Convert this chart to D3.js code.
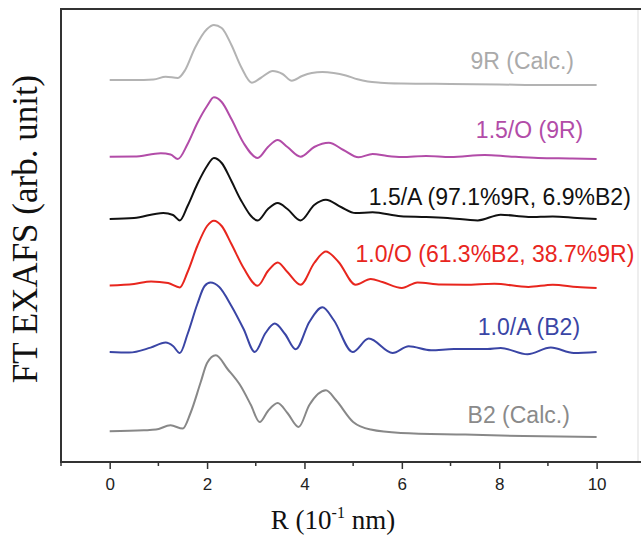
<!DOCTYPE html>
<html>
<head>
<meta charset="utf-8">
<script src="https://cdn.jsdelivr.net/npm/d3@7"></script>
<style>
  html, body { margin: 0; padding: 0; background: #fff; }
  svg { display: block; }
</style>
</head>
<body>
<div id="chart"></div>
<script>
// FT EXAFS curves, [R (10^-1 nm), intensity above own baseline]
const calc9R = [
  [0, 0.5], [0.5, 0.5], [0.9, 0.55], [1.15, 0.83], [1.4, 0.7], [1.55, 1.5],
  [1.75, 3.7], [2.0, 5.6], [2.14, 6.0], [2.3, 5.7], [2.5, 4.0], [2.7, 1.8],
  [2.92, 0.23], [3.1, 0.7], [3.35, 1.4], [3.55, 1.1], [3.74, 0.43], [3.95, 0.9],
  [4.15, 1.2], [4.37, 1.3], [4.6, 1.2], [4.85, 0.95], [5.09, 0.57], [5.3, 0.35],
  [5.56, 0.23], [6.0, 0.15], [7, 0.1], [8, 0.05], [9, 0], [10, 0]
];
const o15 = [
  [0, 0.23], [0.5, 0.25], [1.05, 0.57], [1.25, 0.45], [1.4, 0], [1.6, 1.5],
  [1.8, 3.6], [2.0, 5.3], [2.14, 6.17], [2.3, 5.7], [2.5, 4.0], [2.75, 1.6],
  [3.04, 0.1], [3.25, 1.2], [3.45, 1.9], [3.65, 1.2], [3.92, 0.23], [4.2, 1.2],
  [4.5, 1.63], [4.8, 0.9], [5.11, 0.17], [5.4, 0.5], [5.7, 0.3], [6.0, 0.2],
  [6.5, 0.3], [7.0, 0.2], [7.7, 0.4], [8.2, 0.25], [8.8, 0.1], [9.5, 0.05], [10, 0]
];
const a15 = [
  [0, 0], [0.5, 0.1], [1.1, 0.6], [1.3, 0.4], [1.44, -0.14], [1.6, 1.3],
  [1.8, 3.5], [2.0, 5.3], [2.14, 6.1], [2.3, 5.6], [2.5, 3.8], [2.69, 1.93],
  [3.04, -0.14], [3.25, 1.0], [3.45, 1.6], [3.65, 1.0], [3.92, -0.14], [4.2, 1.4],
  [4.44, 1.93], [4.75, 1.2], [5.05, 0.6], [5.4, 0.67], [5.98, 0.27], [6.5, 0.2],
  [6.94, 0.1], [7.56, -0.14], [8.03, 0.43], [8.6, 0.2], [9.1, 0.26], [9.6, 0.1], [10, 0]
];
const o10 = [
  [0, 0.26], [0.5, 0.4], [0.85, 0.66], [1.2, 0.5], [1.44, 0.06], [1.6, 1.6],
  [1.8, 4.2], [2.0, 6.2], [2.14, 6.73], [2.3, 6.2], [2.5, 4.4], [2.75, 2.0],
  [3.04, 0.23], [3.25, 1.7], [3.45, 2.56], [3.65, 1.6], [3.92, 0.33], [4.2, 2.5],
  [4.44, 3.66], [4.7, 2.6], [5.05, 0.33], [5.36, 0.9], [5.6, 0.6], [6.0, 0],
  [6.32, 0.56], [6.8, 0.35], [7.3, 0.33], [7.9, 0.43], [8.6, 0.1], [9.1, 0.33],
  [9.6, 0.1], [10, 0]
];
const a10 = [
  [0, 0], [0.4, -0.06], [0.84, 0.44], [1.15, 0.94], [1.3, 0.6], [1.44, -0.1],
  [1.6, 1.8], [1.8, 4.8], [1.95, 6.6], [2.07, 6.94], [2.25, 6.5], [2.5, 4.6],
  [2.75, 2.3], [2.98, 0], [3.2, 1.9], [3.39, 2.84], [3.6, 1.8], [3.82, 0.27],
  [4.1, 3.0], [4.37, 4.47], [4.6, 3.2], [4.99, 0], [5.32, 1.34], [5.81, -0.1],
  [6.14, 0.57], [6.6, 0.17], [7.07, 0.3], [7.76, 0.3], [8.03, 0.4], [8.58, -0.23],
  [9.06, 0.44], [9.53, -0.1], [10, 0]
];
const calcB2 = [
  [0, 0.57], [0.7, 0.67], [0.95, 0.74], [1.25, 1.17], [1.5, 0.84], [1.66, 2.4],
  [1.87, 5.5], [2.0, 7.4], [2.18, 8.17], [2.42, 6.8], [2.69, 5.1], [2.9, 3.2],
  [3.08, 1.5], [3.25, 2.6], [3.45, 3.4], [3.65, 2.4], [3.88, 1.0], [4.1, 3.2],
  [4.44, 4.67], [4.65, 3.67], [5.0, 1.5], [5.36, 0.74], [5.98, 0.4], [7.3, 0.24],
  [8.5, 0.1], [10, 0]
];

const seriesNames = ["9R (Calc.)", "1.5/O (9R)", "1.5/A (97.1%9R, 6.9%B2)",
  "1.0/O (61.3%B2, 38.7%9R)", "1.0/A (B2)", "B2 (Calc.)"];
const seriesData = [calc9R, o15, a15, o10, a10, calcB2];
const offsets = [37.7, 30.3, 24.3, 17.4, 11.0, 2.5];
const colors = ["#b3b3b3", "#b24ca8", "#111111", "#e8261e", "#3a45a5", "#888888"];
const labelColors = ["#aaaaaa", "#b24ca8", "#111111", "#e8261e", "#3a45a5", "#8a8a8a"];
// label anchor (R, y) in data units
const labelR = [7.41, 7.52, 5.32, 5.05, 7.56, 7.35];
const labelY = [39.3, 32.4, 25.7, 20.0, 12.7, 3.9];

const majorTicks = [0, 2, 4, 6, 8, 10];
const minorTicks = [-1, 1, 3, 5, 7, 9];

const width = 641, height = 535;
const margin = { left: 61, top: 9, right: 3, bottom: 73 };

const svg = d3.select('#chart').append('svg')
  .attr('width', width)
  .attr('height', height);

const x = d3.scaleLinear().domain([-1, 10.85]).range([margin.left, width - margin.right]);
const y = d3.scaleLinear().domain([0, 45.3]).range([height - margin.bottom, margin.top]);

// frame
svg.append('line')
  .attr('x1', x.range()[1]).attr('x2', x.range()[1])
  .attr('y1', y.range()[1]).attr('y2', y.range()[0])
  .attr('stroke', '#ddd').attr('stroke-width', 1);
svg.append('line')
  .attr('x1', x.range()[0]).attr('x2', width)
  .attr('y1', y.range()[1]).attr('y2', y.range()[1])
  .attr('stroke', '#333').attr('stroke-width', 2);
svg.append('line')
  .attr('x1', x.range()[0]).attr('x2', x.range()[0])
  .attr('y1', y.range()[1] - 1).attr('y2', y.range()[0] + 1)
  .attr('stroke', '#333').attr('stroke-width', 2);

// bottom axis
const xAxis = svg.append('g')
  .attr('transform', `translate(0,${y.range()[0]})`)
  .call(d3.axisBottom(x).tickValues(majorTicks).tickSize(7).tickPadding(9).tickFormat(d3.format('d')));
xAxis.select('.domain').remove();
xAxis.selectAll('.tick line').attr('stroke', '#333').attr('stroke-width', 1.5);
xAxis.selectAll('.tick text')
  .attr('fill', '#222')
  .style('font-family', 'Arial, "Liberation Sans", sans-serif')
  .style('font-size', '17px');

svg.append('g')
  .attr('transform', `translate(0,${y.range()[0]})`)
  .selectAll('line')
  .data(minorTicks)
  .join('line')
  .attr('x1', d => x(d)).attr('x2', d => x(d))
  .attr('y1', 0).attr('y2', 4)
  .attr('stroke', '#333').attr('stroke-width', 1.5);

svg.append('line')
  .attr('x1', x.range()[0]).attr('x2', width)
  .attr('y1', y.range()[0]).attr('y2', y.range()[0])
  .attr('stroke', '#333').attr('stroke-width', 2);

// curves
const line = d3.line()
  .x(d => x(d[0]))
  .curve(d3.curveMonotoneX);

seriesData.forEach((data, i) => {
  svg.append('path')
    .datum(data)
    .attr('fill', 'none')
    .attr('stroke', colors[i])
    .attr('stroke-width', 2)
    .attr('stroke-linejoin', 'round')
    .attr('d', line.y(d => y(d[1] + offsets[i])));

  svg.append('text')
    .attr('x', x(labelR[i]))
    .attr('y', y(labelY[i]))
    .attr('fill', labelColors[i])
    .style('font-family', 'Arial, "Liberation Sans", sans-serif')
    .style('font-size', '23px')
    .text(seriesNames[i]);
});

// axis titles
svg.append('text')
  .attr('transform', `translate(37,229) rotate(-90)`)
  .attr('text-anchor', 'middle')
  .attr('fill', '#111')
  .style('font-family', '"Liberation Serif", "Times New Roman", serif')
  .style('font-size', '35px')
  .text('FT EXAFS (arb. unit)');

const xt = svg.append('text')
  .attr('x', 333)
  .attr('y', 529)
  .attr('text-anchor', 'middle')
  .attr('fill', '#111')
  .style('font-family', '"Liberation Serif", "Times New Roman", serif')
  .style('font-size', '27px');
xt.append('tspan').text('R (10');
xt.append('tspan').attr('dy', -11).style('font-size', '16px').text('-1');
xt.append('tspan').attr('dy', 11).text(' nm)');
</script>
</body>
</html>
